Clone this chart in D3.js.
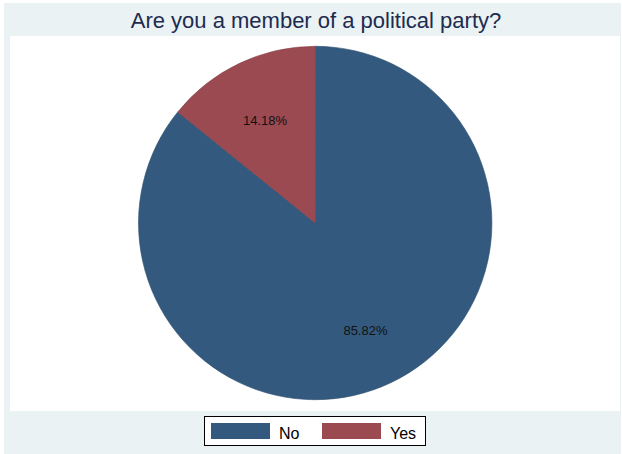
<!DOCTYPE html>
<html>
<head>
<meta charset="utf-8">
<script src="https://cdn.jsdelivr.net/npm/d3@7"></script>
<style>
html,body{margin:0;padding:0;background:#fff;}
svg{display:block;}
</style>
</head>
<body>
<svg id="chart" width="622" height="454"></svg>
<script>
const title = "Are you a member of a political party?";
const categories = ["No", "Yes"];
const values = [85.82, 14.18];
const colors = ["#335a7e", "#9b4a51"];

const svg = d3.select("#chart");
const font = "'Liberation Sans', Arial, sans-serif";

// backgrounds
svg.append("rect").attr("x", 4).attr("y", 3).attr("width", 617).attr("height", 451).attr("fill", "#eaf2f3");
svg.append("rect").attr("x", 10).attr("y", 36).attr("width", 610).attr("height", 375).attr("fill", "#ffffff");

// title
svg.append("text").attr("x", 316).attr("y", 28).attr("text-anchor", "middle")
  .attr("font-family", font).attr("font-size", 22).attr("fill", "#1e2b50").text(title);

// pie
const cx = 315.2, cy = 223, r = 176.7;
const data = categories.map((c, i) => ({cat: c, value: values[i], color: colors[i]}));
const pie = d3.pie().value(d => d.value).sort(null).startAngle(0).endAngle(2 * Math.PI);
const arcs = pie(data);
const arc = d3.arc().innerRadius(0).outerRadius(r);
const labelArc = d3.arc().innerRadius(r * 0.66).outerRadius(r * 0.66);

const g = svg.append("g").attr("transform", `translate(${cx},${cy})`);
g.selectAll("path").data(arcs).join("path")
  .attr("d", arc).attr("fill", d => d.data.color)
  .attr("stroke", d => d3.color(d.data.color).darker(0.4)).attr("stroke-width", 0.6);

g.selectAll("text").data(arcs).join("text")
  .attr("transform", d => `translate(${labelArc.centroid(d)})`)
  .attr("text-anchor", "middle").attr("dy", "0.55em")
  .attr("font-family", font).attr("font-size", 13).attr("fill", "#111")
  .text(d => d.data.value.toFixed(2) + "%");

// legend
svg.append("rect").attr("x", 204.5).attr("y", 416.5).attr("width", 221).attr("height", 29)
  .attr("fill", "#fff").attr("stroke", "#000").attr("stroke-width", 1);
const keyX = [211, 322];
const lg = svg.append("g");
data.forEach((d, i) => {
  lg.append("rect").attr("x", keyX[i]).attr("y", 423).attr("width", 59).attr("height", 16)
    .attr("fill", d.color);
  lg.append("text").attr("x", keyX[i] + 68).attr("y", 438.5)
    .attr("font-family", font).attr("font-size", 16).attr("fill", "#000").text(d.cat);
});
</script>
</body>
</html>
